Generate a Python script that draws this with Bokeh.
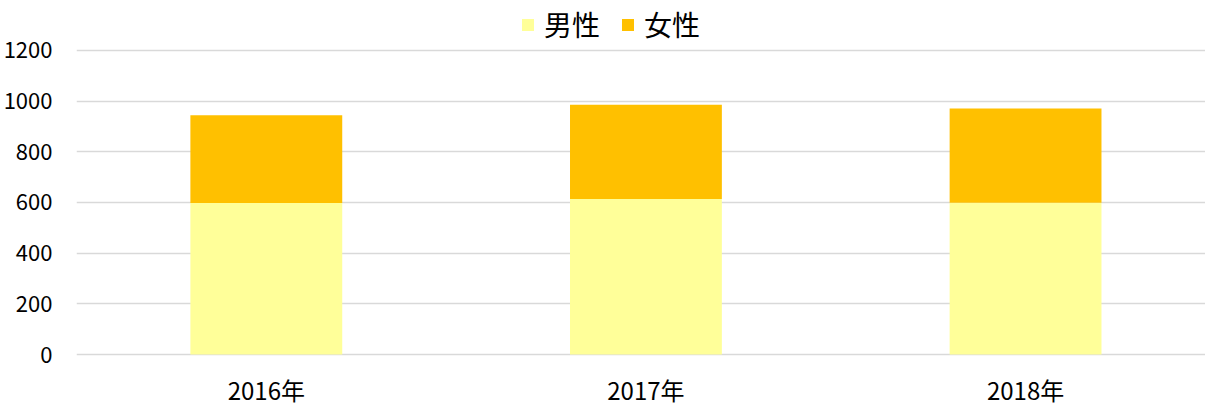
from bokeh.plotting import figure
from bokeh.models import ColumnDataSource, Range1d, FixedTicker, Legend, LegendItem
from bokeh.core.properties import value
from bokeh.embed import file_html
from bokeh.resources import INLINE

categories = ["2016年", "2017年", "2018年"]
male = [598, 614, 599]
female = [346, 372, 372]
series_names = ["男性", "女性"]
colors = ["#FFFF99", "#FFC000"]
y_ticks = [0, 200, 400, 600, 800, 1000, 1200]

FONT = "Noto Sans CJK JP"

xs = [i + 0.5 for i in range(len(categories))]
src = ColumnDataSource(dict(x=xs, m=male, f=female, label=categories,
                            ly=[-138] * len(categories)))

p = figure(width=1205, height=408, output_backend="svg", toolbar_location=None,
           x_range=Range1d(0, 2.974), y_range=Range1d(-213, 1397),
           min_border_left=75, min_border_right=0, min_border_top=0, min_border_bottom=0)
p.outline_line_color = None
p.xaxis.visible = False

r = p.vbar_stack(["m", "f"], x="x", width=0.4, source=src, color=colors, line_color=None)

p.text(x="x", y="ly", text="label", source=src, text_align="center", text_baseline="middle",
       text_font=value(FONT), text_font_size="24px", text_color="#000000")

p.yaxis.ticker = FixedTicker(ticks=y_ticks)
p.yaxis.major_tick_line_color = None
p.yaxis.minor_tick_line_color = None
p.yaxis.axis_line_color = None
p.yaxis.major_label_text_font = FONT
p.yaxis.major_label_text_font_size = "22px"
p.yaxis.major_label_text_color = "#000000"
p.yaxis.major_label_standoff = 18

p.xgrid.grid_line_color = None
p.ygrid.grid_line_color = "#d9d9d9"
p.ygrid.grid_line_width = 1.5
p.ygrid.level = "underlay"

legend = Legend(items=[LegendItem(label=n, renderers=[rr]) for n, rr in zip(series_names, r)],
                orientation="horizontal", location=(444, 364),
                label_text_font=FONT, label_text_font_size="28px", label_text_color="#000000",
                glyph_width=15, glyph_height=15, spacing=20, padding=0, margin=0,
                label_standoff=9, border_line_color=None, background_fill_alpha=0)
p.add_layout(legend, "center")

open("out.html", "w").write(file_html(p, INLINE))
